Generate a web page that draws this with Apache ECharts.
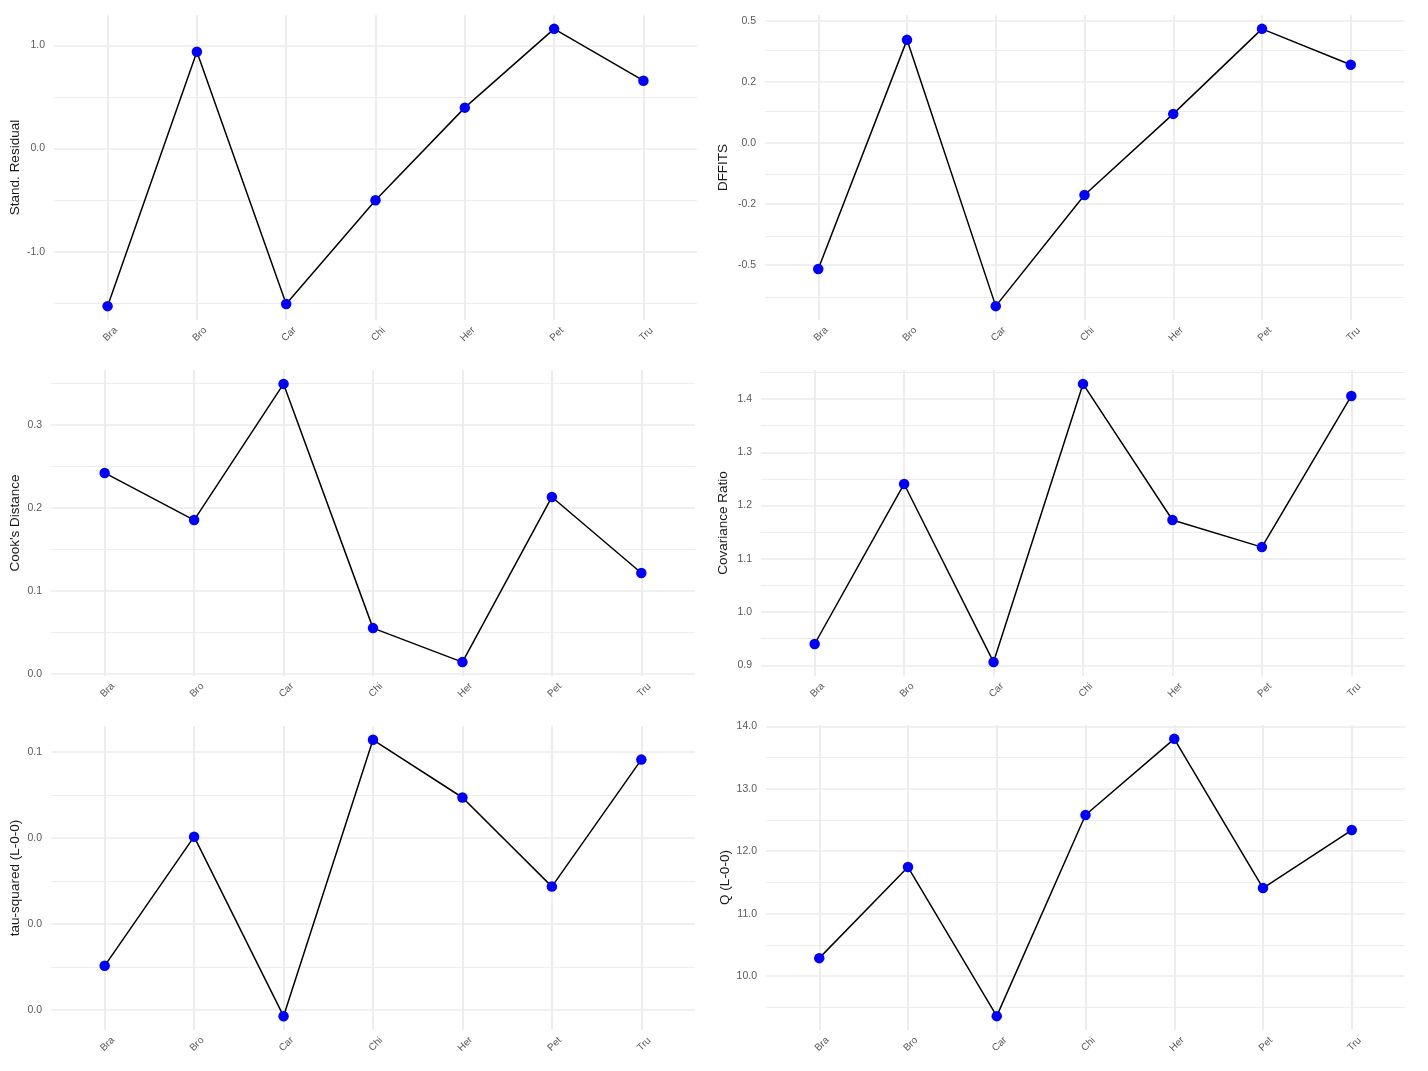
<!DOCTYPE html>
<html>
<head>
<meta charset="utf-8">
<script src="https://cdn.jsdelivr.net/npm/echarts@6/dist/echarts.min.js"></script>
<style>
html,body{margin:0;padding:0;background:#fff;}
#c{width:1428px;height:1071px;}
</style>
</head>
<body>
<div id="c"></div>
<script>
const categories = ["Bra", "Bro", "Car", "Chi", "Her", "Pet", "Tru"];

const standResidual = [-1.527, 0.937, -1.507, -0.502, 0.396, 1.159, 0.657];
const dffits = [-0.516, 0.422, -0.668, -0.213, 0.119, 0.467, 0.320];
const cooksDistance = [0.2422, 0.1855, 0.3494, 0.0554, 0.0145, 0.2133, 0.1217];
const covRatio = [0.940, 1.2406, 0.906, 1.4286, 1.173, 1.122, 1.406];
const tauSquared = [0.0103, 0.0403, -0.0014, 0.0628, 0.0494, 0.0287, 0.0582];
const qStat = [10.288, 11.747, 9.359, 12.58, 13.80, 11.41, 12.34];

const ticks1 = [-1, 0, 1], labels1 = ["-1.0", "0.0", "1.0"], minor1 = [-1.5, -0.5, 0.5];
const ticks2 = [-0.5, -0.25, 0, 0.25, 0.5], labels2 = ["-0.5", "-0.2", "0.0", "0.2", "0.5"], minor2 = [-0.625, -0.375, -0.125, 0.125, 0.375];
const ticks3 = [0, 0.1, 0.2, 0.3], labels3 = ["0.0", "0.1", "0.2", "0.3"], minor3 = [0.05, 0.15, 0.25, 0.35];
const ticks4 = [0.9, 1.0, 1.1, 1.2, 1.3, 1.4], labels4 = ["0.9", "1.0", "1.1", "1.2", "1.3", "1.4"], minor4 = [0.95, 1.05, 1.15, 1.25, 1.35, 1.45];
const ticks5 = [0, 0.02, 0.04, 0.06], labels5 = ["0.0", "0.0", "0.0", "0.1"], minor5 = [0.01, 0.03, 0.05];
const ticks6 = [10, 11, 12, 13, 14], labels6 = ["10.0", "11.0", "12.0", "13.0", "14.0"], minor6 = [9.5, 10.5, 11.5, 12.5, 13.5];

const panels = [
  {name: "Stand. Residual", values: standResidual, ticks: ticks1, labels: labels1, minor: minor1,
   grid: {left: 54, right: 731, top: 15, height: 305}, gap: 32},
  {name: "DFFITS", values: dffits, ticks: ticks2, labels: labels2, minor: minor2,
   grid: {left: 765, right: 24, top: 15, height: 305}, gap: 35},
  {name: "Cook's Distance", values: cooksDistance, ticks: ticks3, labels: labels3, minor: minor3,
   grid: {left: 51, right: 733, top: 370, height: 306}, gap: 29},
  {name: "Covariance Ratio", values: covRatio, ticks: ticks4, labels: labels4, minor: minor4,
   grid: {left: 761, right: 23, top: 370, height: 306}, gap: 31},
  {name: "tau-squared (L-0-0)", values: tauSquared, ticks: ticks5, labels: labels5, minor: minor5,
   grid: {left: 51, right: 733, top: 726, height: 304}, gap: 29},
  {name: "Q (L-0-0)", values: qStat, ticks: ticks6, labels: labels6, minor: minor6,
   grid: {left: 766, right: 23, top: 725, height: 305}, gap: 34}
];

const FONT = "'Liberation Sans', Arial, sans-serif";
const GRID_COLOR = "#ebebeb";
const catIdx = categories.map((c, i) => i + 1);

const option = {
  backgroundColor: "#ffffff",
  animation: false,
  grid: [], xAxis: [], yAxis: [], series: []
};

panels.forEach((p, k) => {
  option.grid.push(Object.assign({outerBoundsMode: 'none', containLabel: false}, p.grid));
  option.xAxis.push({
    type: 'value', gridIndex: k, min: 0.4, max: 7.6,
    axisLine: {show: false}, axisTick: {show: false}, splitLine: {show: false},
    axisLabel: {
      customValues: catIdx, rotate: 45, margin: 17, fontSize: 10, color: '#5a5a5a', fontFamily: FONT,
      align: 'center', verticalAlign: 'middle', padding: [0, 0, 0, 8],
      formatter: v => categories[Math.round(v) - 1]
    }
  });
  option.yAxis.push({
    type: 'value', gridIndex: k,
    min: e => e.min - 0.05 * (e.max - e.min),
    max: e => e.max + 0.05 * (e.max - e.min),
    name: p.name, nameLocation: 'middle', nameGap: p.gap,
    nameTextStyle: {fontSize: 13.5, color: '#1a1a1a', fontFamily: FONT},
    axisLine: {show: false}, axisTick: {show: false, customValues: p.ticks}, splitLine: {show: false},
    axisLabel: {
      customValues: p.ticks, margin: 9, fontSize: 10.5, color: '#5a5a5a', fontFamily: FONT,
      formatter: v => {
        let best = 0;
        p.ticks.forEach((t, i) => { if (Math.abs(t - v) < Math.abs(p.ticks[best] - v)) best = i; });
        return p.labels[best];
      }
    }
  });
  const data = p.values.map((v, i) => [catIdx[i], v]);
  option.series.push({
    type: 'line', xAxisIndex: k, yAxisIndex: k, data: data, z: 1,
    symbol: 'none', lineStyle: {opacity: 0}, silent: true,
    markLine: {
      silent: true, symbol: ['none', 'none'], label: {show: false}, animation: false,
      emphasis: {disabled: true},
      data: [
        ...p.minor.map(v => ({yAxis: v, lineStyle: {color: GRID_COLOR, width: 0.9, type: 'solid'}})),
        ...p.ticks.map(v => ({yAxis: v, lineStyle: {color: GRID_COLOR, width: 1.6, type: 'solid'}})),
        ...catIdx.map(v => ({xAxis: v, lineStyle: {color: GRID_COLOR, width: 1.8, type: 'solid'}}))
      ]
    }
  });
  option.series.push({
    type: 'line', xAxisIndex: k, yAxisIndex: k, data: data, z: 10,
    lineStyle: {color: '#000000', width: 1.5},
    symbol: 'circle', symbolSize: 10.5,
    itemStyle: {color: '#0000ff', borderWidth: 0},
    silent: true
  });
});

const chart = echarts.init(document.getElementById('c'), null, {renderer: 'canvas'});
chart.setOption(option);
</script>
</body>
</html>
